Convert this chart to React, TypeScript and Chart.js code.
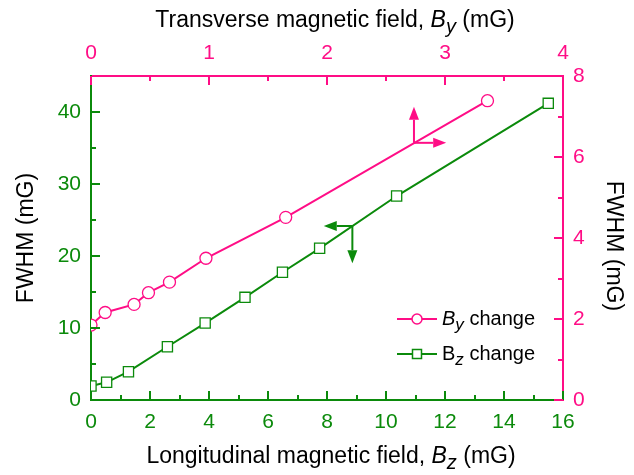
import React, { useEffect, useRef } from 'react';
import { Chart, registerables } from 'chart.js';

Chart.register(...registerables);

const PINK = '#ff0d86';
const GREEN = '#0b8a0b';
const FONT = '"Liberation Sans", Arial, Helvetica, sans-serif';

// B_y change (top axis: transverse field, right axis: FWHM)
const byField = [0, 0.12, 0.365, 0.487, 0.665, 0.974, 1.65, 3.36];
const byFwhm = [1.85, 2.16, 2.36, 2.65, 2.91, 3.5, 4.51, 7.39];

// B_z change (bottom axis: longitudinal field, left axis: FWHM)
const bzField = [0, 0.53, 1.27, 2.59, 3.87, 5.22, 6.49, 7.75, 10.36, 15.5];
const bzFwhm = [1.94, 2.46, 3.93, 7.4, 10.69, 14.26, 17.74, 21.07, 28.33, 41.2];

// tick values
const bottomMajor = [0, 2, 4, 6, 8, 10, 12, 14, 16];
const bottomMinor = [1, 3, 5, 7, 9, 11, 13, 15];
const topMajor = [0, 1, 2, 3, 4];
const topMinor = [0.5, 1.5, 2.5, 3.5];
const leftMajor = [0, 10, 20, 30, 40];
const leftMinor = [5, 15, 25, 35];
const rightMajor = [0, 2, 4, 6, 8];
const rightMinor = [1, 3, 5, 7];

// arrow annotations (data coordinates of their own axes)
const byArrow = { x: 2.737, y: 6.35, toX: 3.01, toY: 7.24 };
const bzArrow = { x: 8.86, y: 24.17, toX: 7.89, toY: 18.99 };

type Seg = { t: string; italic?: boolean; sub?: boolean };

const bottomTitle: Seg[] = [
  { t: 'Longitudinal magnetic field, ' },
  { t: 'B', italic: true },
  { t: 'z', italic: true, sub: true },
  { t: ' (mG)' },
];
const topTitle: Seg[] = [
  { t: 'Transverse magnetic field, ' },
  { t: 'B', italic: true },
  { t: 'y', italic: true, sub: true },
  { t: ' (mG)' },
];
const yTitle: Seg[] = [{ t: 'FWHM (mG)' }];
const legendBy: Seg[] = [
  { t: 'B', italic: true },
  { t: 'y', italic: true, sub: true },
  { t: ' change' },
];
const legendBz: Seg[] = [
  { t: 'B' },
  { t: 'z', italic: true, sub: true },
  { t: ' change' },
];

function segFont(s: Seg, size: number) {
  const sz = s.sub ? Math.round(size * 0.85) : size;
  return `${s.italic ? 'italic ' : ''}${sz}px ${FONT}`;
}

function measureRich(ctx: CanvasRenderingContext2D, segs: Seg[], size: number) {
  let w = 0;
  for (const s of segs) {
    ctx.font = segFont(s, size);
    w += ctx.measureText(s.t).width;
  }
  return w;
}

function drawRich(
  ctx: CanvasRenderingContext2D,
  segs: Seg[],
  x: number,
  y: number,
  size: number,
  align: 'left' | 'center',
  color: string
) {
  const total = measureRich(ctx, segs, size);
  let cx = align === 'center' ? x - total / 2 : x;
  ctx.fillStyle = color;
  ctx.textAlign = 'left';
  for (const s of segs) {
    ctx.font = segFont(s, size);
    ctx.fillText(s.t, cx, y + (s.sub ? size * 0.25 : 0));
    cx += ctx.measureText(s.t).width;
  }
}

function arrowHead(ctx: CanvasRenderingContext2D, x0: number, y0: number, x1: number, y1: number, color: string) {
  const ang = Math.atan2(y1 - y0, x1 - x0);
  const len = 13;
  const half = 5;
  ctx.strokeStyle = color;
  ctx.fillStyle = color;
  ctx.lineWidth = 2;
  const bx = x1 - Math.cos(ang) * len;
  const by = y1 - Math.sin(ang) * len;
  ctx.beginPath();
  ctx.moveTo(x0, y0);
  ctx.lineTo(bx, by);
  ctx.stroke();
  ctx.beginPath();
  ctx.moveTo(x1, y1);
  ctx.lineTo(bx - Math.sin(ang) * half, by + Math.cos(ang) * half);
  ctx.lineTo(bx + Math.sin(ang) * half, by - Math.cos(ang) * half);
  ctx.closePath();
  ctx.fill();
}

const decorPlugin = {
  id: 'decor',
  afterDraw(chart: any) {
    const ctx: CanvasRenderingContext2D = chart.ctx;
    const { left, right, top, bottom } = chart.chartArea;
    const s = chart.scales;
    ctx.save();
    ctx.lineWidth = 2;
    const MAJ = 9;
    const MIN = 5;
    // inward ticks
    const vTick = (scale: any, vals: number[], len: number, fromY: number, dir: number, color: string) => {
      ctx.strokeStyle = color;
      for (const v of vals) {
        const px = Math.round(scale.getPixelForValue(v));
        ctx.beginPath();
        ctx.moveTo(px, fromY);
        ctx.lineTo(px, fromY + dir * len);
        ctx.stroke();
      }
    };
    const hTick = (scale: any, vals: number[], len: number, fromX: number, dir: number, color: string) => {
      ctx.strokeStyle = color;
      for (const v of vals) {
        const py = Math.round(scale.getPixelForValue(v));
        ctx.beginPath();
        ctx.moveTo(fromX, py);
        ctx.lineTo(fromX + dir * len, py);
        ctx.stroke();
      }
    };
    vTick(s.xBottom, bottomMajor, MAJ, bottom, -1, GREEN);
    vTick(s.xBottom, bottomMinor, MIN, bottom, -1, GREEN);
    vTick(s.xTop, topMajor, MAJ, top, 1, PINK);
    vTick(s.xTop, topMinor, MIN, top, 1, PINK);
    hTick(s.yLeft, leftMajor, MAJ, left, 1, GREEN);
    hTick(s.yLeft, leftMinor, MIN, left, 1, GREEN);
    hTick(s.yRight, rightMajor, MAJ, right, -1, PINK);
    hTick(s.yRight, rightMinor, MIN, right, -1, PINK);

    // arrows
    const px0 = s.xTop.getPixelForValue(byArrow.x);
    const py0 = s.yRight.getPixelForValue(byArrow.y);
    arrowHead(ctx, px0, py0, px0, s.yRight.getPixelForValue(byArrow.toY), PINK);
    arrowHead(ctx, px0, py0, s.xTop.getPixelForValue(byArrow.toX), py0, PINK);
    const gx0 = s.xBottom.getPixelForValue(bzArrow.x);
    const gy0 = s.yLeft.getPixelForValue(bzArrow.y);
    arrowHead(ctx, gx0, gy0, s.xBottom.getPixelForValue(bzArrow.toX), gy0, GREEN);
    arrowHead(ctx, gx0, gy0, gx0, s.yLeft.getPixelForValue(bzArrow.toY), GREEN);

    // titles
    ctx.textBaseline = 'alphabetic';
    const cxPlot = (left + right) / 2;
    drawRich(ctx, bottomTitle, cxPlot + 4, 463, 23, 'center', '#000');
    drawRich(ctx, topTitle, cxPlot + 8, 27, 23, 'center', '#000');
    ctx.save();
    ctx.translate(27, (top + bottom) / 2);
    ctx.rotate(-Math.PI / 2);
    ctx.textBaseline = 'middle';
    drawRich(ctx, yTitle, 0, 0, 23, 'center', '#000');
    ctx.restore();
    ctx.save();
    ctx.translate(613, (top + bottom) / 2 + 8);
    ctx.rotate(Math.PI / 2);
    ctx.textBaseline = 'middle';
    drawRich(ctx, yTitle, 0, 0, 23, 'center', '#000');
    ctx.restore();

    // legend
    ctx.textBaseline = 'alphabetic';
    const lx0 = 397;
    const lx1 = 437;
    const ly1 = 319;
    const ly2 = 354;
    ctx.lineWidth = 2;
    ctx.strokeStyle = PINK;
    ctx.beginPath();
    ctx.moveTo(lx0, ly1);
    ctx.lineTo(lx1, ly1);
    ctx.stroke();
    ctx.fillStyle = '#fff';
    ctx.lineWidth = 1.5;
    ctx.beginPath();
    ctx.arc((lx0 + lx1) / 2, ly1, 5, 0, Math.PI * 2);
    ctx.fill();
    ctx.stroke();
    ctx.lineWidth = 2;
    ctx.strokeStyle = GREEN;
    ctx.beginPath();
    ctx.moveTo(lx0, ly2);
    ctx.lineTo(lx1, ly2);
    ctx.stroke();
    ctx.lineWidth = 1.5;
    ctx.fillStyle = '#fff';
    ctx.fillRect((lx0 + lx1) / 2 - 4.5, ly2 - 4.5, 9, 9);
    ctx.strokeRect((lx0 + lx1) / 2 - 4.5, ly2 - 4.5, 9, 9);
    drawRich(ctx, legendBy, 442, 325, 20, 'left', '#000');
    drawRich(ctx, legendBz, 442, 360, 20, 'left', '#000');
    ctx.restore();
  },
};

export default function App() {
  const ref = useRef<HTMLCanvasElement | null>(null);
  useEffect(() => {
    if (!ref.current) return;
    const tickFont = { family: FONT, size: 21 };
    const chart = new Chart(ref.current, {
      type: 'scatter',
      data: {
        datasets: [
          {
            label: 'By change',
            data: byField.map((x, i) => ({ x, y: byFwhm[i] })),
            xAxisID: 'xTop',
            yAxisID: 'yRight',
            showLine: true,
            borderColor: PINK,
            borderWidth: 2,
            pointStyle: 'circle',
            pointRadius: 6,
            pointBorderWidth: 1.3,
            pointBackgroundColor: '#fff',
            pointBorderColor: PINK,
            clip: 0,
          } as any,
          {
            label: 'Bz change',
            data: bzField.map((x, i) => ({ x, y: bzFwhm[i] })),
            xAxisID: 'xBottom',
            yAxisID: 'yLeft',
            showLine: true,
            borderColor: GREEN,
            borderWidth: 2,
            pointStyle: 'rect',
            pointRadius: 7.2,
            pointBorderWidth: 1.3,
            pointBackgroundColor: '#fff',
            pointBorderColor: GREEN,
            clip: 0,
          } as any,
        ],
      },
      options: {
        animation: false,
        responsive: true,
        maintainAspectRatio: false,
        layout: { padding: 0 },
        plugins: { legend: { display: false }, tooltip: { enabled: false }, title: { display: false } },
        scales: {
          xBottom: {
            type: 'linear',
            position: 'bottom',
            min: 0,
            max: 16,
            grid: { display: false, drawTicks: false },
            border: { display: true, color: GREEN, width: 2 },
            ticks: { color: GREEN, font: tickFont, padding: 10, maxRotation: 0 },
            afterBuildTicks: (sc: any) => { sc.ticks = bottomMajor.map((v) => ({ value: v })); },
            afterFit: (sc: any) => { sc.height = 75; },
          },
          xTop: {
            type: 'linear',
            position: 'top',
            min: 0,
            max: 4,
            grid: { display: false, drawTicks: false },
            border: { display: true, color: PINK, width: 2 },
            ticks: { color: PINK, font: tickFont, padding: 10, maxRotation: 0 },
            afterBuildTicks: (sc: any) => { sc.ticks = topMajor.map((v) => ({ value: v })); },
            afterFit: (sc: any) => { sc.height = 76; },
          },
          yLeft: {
            type: 'linear',
            position: 'left',
            min: 0,
            max: 45,
            grid: { display: false, drawTicks: false },
            border: { display: true, color: GREEN, width: 2 },
            ticks: { color: GREEN, font: tickFont, padding: 10 },
            afterBuildTicks: (sc: any) => { sc.ticks = leftMajor.map((v) => ({ value: v })); },
            afterFit: (sc: any) => { sc.width = 91; },
          },
          yRight: {
            type: 'linear',
            position: 'right',
            min: 0,
            max: 8,
            grid: { display: false, drawTicks: false },
            border: { display: true, color: PINK, width: 2 },
            ticks: { color: PINK, font: tickFont, padding: 10 },
            afterBuildTicks: (sc: any) => { sc.ticks = rightMajor.map((v) => ({ value: v })); },
            afterFit: (sc: any) => { sc.width = 71; },
          },
        },
      },
      plugins: [decorPlugin],
    });
    return () => chart.destroy();
  }, []);
  return (
    <div style={{ position: 'fixed', left: 0, top: 0, width: 634, height: 475, background: '#fff' }}>
      <canvas ref={ref} />
    </div>
  );
}
